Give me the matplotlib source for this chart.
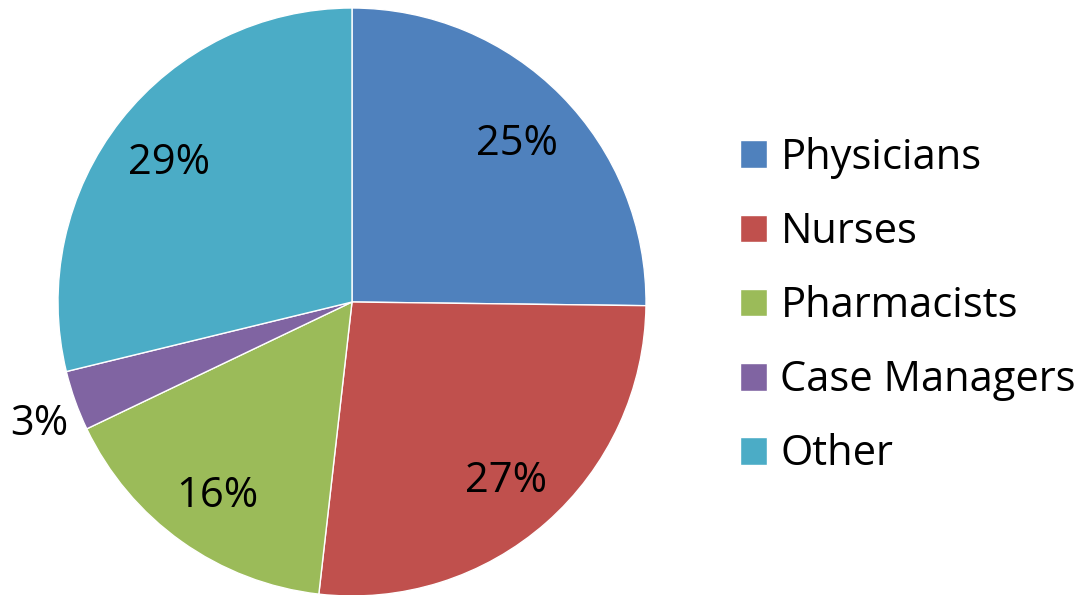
import matplotlib
matplotlib.use("Agg")
import matplotlib.pyplot as plt
import numpy as np

categories = ["Physicians", "Nurses", "Pharmacists", "Case Managers", "Other"]
values = [25.2, 26.6, 16.1, 3.3, 28.8]
colors = ["#4F81BD", "#C0504D", "#9BBB59", "#8064A2", "#4BACC6"]

plt.rcParams['font.family'] = ['Open Sans', 'DejaVu Sans']

W, H = 1080, 595
fig = plt.figure(figsize=(W / 100, H / 100), dpi=100)
cx, cy, r = 352, 302, 294
ax = fig.add_axes([(cx - r) / W, (H - cy - r) / H, 2 * r / W, 2 * r / H])

wedges, texts, autotexts = ax.pie(
    values, colors=colors, startangle=90, counterclock=False,
    autopct=lambda p: f"{p:.0f}%", pctdistance=0.79, radius=1.0,
    wedgeprops=dict(edgecolor="white", linewidth=1),
    textprops=dict(fontsize=30, color="black"))
ax.set_xlim(-1, 1)
ax.set_ylim(-1, 1)
ax.set_aspect('equal')

for w, t, v in zip(wedges, autotexts, values):
    t.set_verticalalignment('center_baseline')
    if v < 5:
        ang = np.deg2rad((w.theta1 + w.theta2) / 2)
        t.set_position((1.13 * np.cos(ang), 1.13 * np.sin(ang) - 0.02))

leg = fig.legend(wedges, categories, loc="upper left",
                 bbox_to_anchor=(740 / W, 1 - 137 / H),
                 frameon=False, fontsize=30, handlelength=0.65, handleheight=0.65,
                 handletextpad=0.32, labelspacing=0.77, borderpad=0, borderaxespad=0)

fig.savefig("out.png", dpi=100)
